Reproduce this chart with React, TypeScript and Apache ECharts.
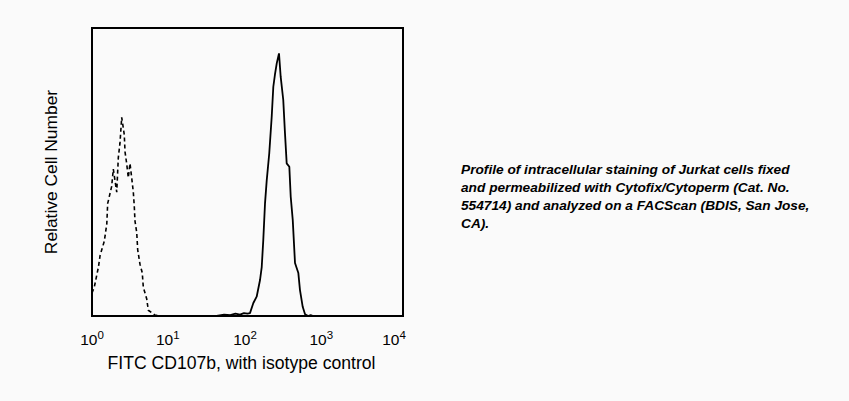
import React, { useEffect, useRef } from "react";
import * as echarts from "echarts";

// Isotype control (dashed) histogram: fluorescence intensity and relative count
const isoX = [1.0, 1.07, 1.21, 1.27, 1.44, 1.55, 1.59, 1.79, 1.88, 2.08, 2.18, 2.29, 2.41, 2.6, 2.66, 2.79, 2.93, 3.08, 3.24, 3.4, 3.5, 3.57, 3.76, 3.87, 4.14, 4.43, 4.57, 5.05, 5.3, 6.46, 7.5];
const isoY = [8, 10, 17, 21, 26, 32, 39, 45, 51, 43, 55, 60, 69, 63, 57, 53, 48, 53, 48, 43, 38, 33, 29, 23, 18, 15, 10, 6, 2, 0.3, 0];

// FITC CD107b (solid) histogram
const cdX = [40, 50, 60, 70, 80, 90, 100, 107.6, 118.9, 131.2, 144.9, 152.4, 159.6, 167.9, 176.6, 190.5, 204.6, 214.8, 225.9, 237.7, 254.1, 267.3, 288.4, 303.4, 319.2, 345.1, 359.7, 382, 408.3, 450.8, 473.2, 512.9, 549.5, 602.6, 650, 700, 800];
const cdY = [0, 0.5, 0.3, 0.8, 0.5, 1, 0.8, 1, 4.5, 6.7, 12.5, 17, 26.4, 39, 47, 56.5, 69, 79.6, 84, 87.7, 91.2, 83, 75, 63.5, 53, 51.8, 41.4, 33.3, 18.4, 14.9, 9, 3.2, 0.6, 0, 0.3, 0, 0];

const xTicks = [1, 10, 100, 1000, 10000];
const xTitle = "FITC CD107b, with isotype control";
const yTitle = "Relative Cell Number";
const caption =
  "Profile of intracellular staining of Jurkat cells fixed\nand permeabilized with Cytofix/Cytoperm (Cat. No.\n554714) and analyzed on a FACScan (BDIS, San Jose,\nCA).";

export default function App() {
  const ref = useRef<HTMLDivElement>(null);
  useEffect(() => {
    if (!ref.current) return;
    const chart = echarts.init(ref.current, undefined, { renderer: "svg" });
    const font = "Liberation Sans, Arial, sans-serif";
    // trailing spacer widths nudge each label slightly left, as in the reference
    const spacer: Record<number, string> = { 0: "", 1: "{g4| }", 2: "{g5| }", 3: "{g8| }", 4: "{g18| }" };
    chart.setOption({
      animation: false,
      backgroundColor: "#fafafa",
      textStyle: { fontFamily: font },
      grid: {
        left: 92,
        top: 28,
        width: 311,
        height: 288,
        show: true,
        borderColor: "#000",
        borderWidth: 2,
        backgroundColor: "transparent",
      },
      xAxis: {
        type: "log",
        logBase: 10,
        min: xTicks[0],
        max: xTicks[xTicks.length - 1],
        axisLine: { show: false },
        axisTick: { show: false },
        splitLine: { show: false },
        axisLabel: {
          margin: 13,
          color: "#000",
          formatter: (v: number) => {
            const e = Math.round(Math.log10(v));
            return "{b|10}{s|" + e + "}" + (spacer[e] || "");
          },
          rich: {
            b: { fontSize: 15.5, fontFamily: font, color: "#000" },
            s: { fontSize: 11.5, fontFamily: font, color: "#000", padding: [0, 0, 9, 0] },
            g4: { width: 4, fontSize: 10 },
            g5: { width: 5, fontSize: 10 },
            g8: { width: 8, fontSize: 10 },
            g18: { width: 18, fontSize: 10 },
          },
        },
        name: xTitle,
        nameLocation: "middle",
        nameGap: 38,
        nameTextStyle: { fontSize: 17.6, color: "#000", fontFamily: font, padding: [0, 12, 0, 0] },
      },
      yAxis: {
        type: "value",
        min: 0,
        max: 100,
        axisLine: { show: false },
        axisTick: { show: false },
        axisLabel: { show: false },
        splitLine: { show: false },
        name: yTitle,
        nameLocation: "middle",
        nameGap: 33,
        nameTextStyle: { fontSize: 17.4, color: "#000", fontFamily: font },
      },
      series: [
        {
          type: "line",
          data: isoX.map((x, i) => [x, isoY[i]]),
          showSymbol: false,
          symbol: "none",
          lineStyle: { color: "#000", width: 1.6, type: [4, 3] },
        },
        {
          type: "line",
          data: cdX.map((x, i) => [x, cdY[i]]),
          showSymbol: false,
          symbol: "none",
          lineStyle: { color: "#000", width: 1.8 },
        },
      ],
      graphic: [
        {
          type: "text",
          left: 461,
          top: 160,
          style: {
            text: caption,
            font: "italic bold 13.7px Liberation Sans, Arial, sans-serif",
            fill: "#000",
            lineHeight: 18,
          },
        },
      ],
    });
    return () => chart.dispose();
  }, []);
  return (
    <div
      ref={ref}
      style={{ position: "fixed", left: 0, top: 0, width: 849, height: 401 }}
    />
  );
}
